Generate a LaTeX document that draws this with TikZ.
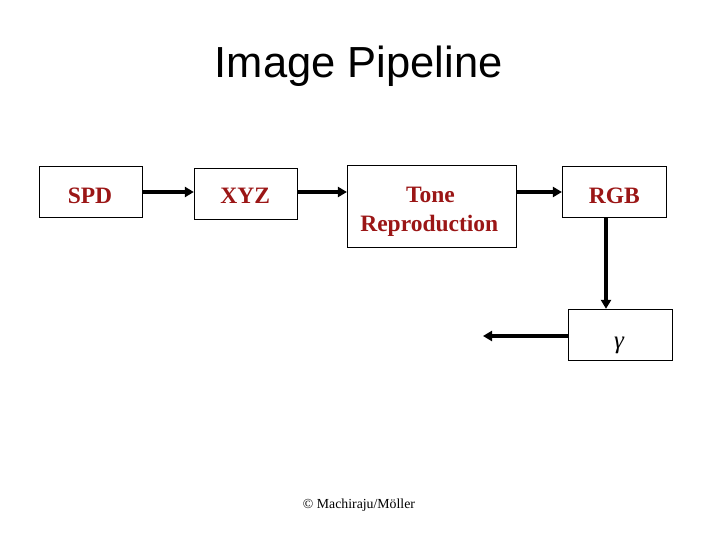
\documentclass[tikz,border=0pt]{standalone}
\usepackage{fontspec}
\setmainfont{Liberation Serif}
\setsansfont{Liberation Sans}
\usetikzlibrary{arrows.meta,calc}
\definecolor{boxred}{RGB}{155,22,22}
\tikzset{
  stage/.style={draw=black, line width=0.9pt, inner sep=0pt, fill=white},
  stagetext/.style={text=boxred, font=\fontsize{23.5}{28.7}\selectfont\bfseries, anchor=base, inner sep=0pt},
  flow/.style={line width=3.3pt, -{Triangle[length=9pt,width=10pt]}}
}
\begin{document}
\begin{tikzpicture}[x=1pt,y=-1pt]
\useasboundingbox (0,0) rectangle (720,540);
\node[font=\sffamily\fontsize{43.5}{50}\selectfont, anchor=base, inner sep=0pt] (title) at (358.7,78) {Image Pipeline};
% boxes
\node[stage, minimum width=103pt, minimum height=50.6pt] (spd) at (90.8,192) {};
\node[stage, minimum width=103pt, minimum height=51pt] (xyz) at (245.8,193.8) {};
\node[stage, minimum width=168.7pt, minimum height=82pt] (tone) at (431.7,206.3) {};
\node[stage, minimum width=103.7pt, minimum height=50.6pt] (rgb) at (614.2,192) {};
\node[stage, minimum width=104pt, minimum height=51pt] (gam) at (620.3,334.8) {};
% texts
\node[stagetext] (spdt) at (90,203.3) {SPD};
\node[stagetext] (xyzt) at (245.2,203.3) {XYZ};
\node[stagetext] (tonet) at (430.5,202.3) {Tone};
\node[stagetext] (reprt) at (429.3,231) {Reproduction};
\node[stagetext] (rgbt) at (614.3,203.3) {RGB};
\node[anchor=base, inner sep=0pt, font=\fontsize{25}{28}\selectfont\itshape] (gamt) at (619,348) {γ};
% connectors
\coordinate (out) at (483,336);
\coordinate (rgbdown) at (606,217.3);
\draw[flow] (spd.east) -- (spd.east -| xyz.west);
\draw[flow] (spd.east -| xyz.east) -- (spd.east -| tone.west);
\draw[flow] (spd.east -| tone.east) -- (rgb.west);
\draw[flow] (rgbdown) -- (rgbdown |- gam.north);
\draw[flow] (out -| gam.west) -- (out);
% footer
\node[font=\fontsize{13.8}{16}\selectfont, anchor=base, inner sep=0pt] (copy) at (359,508) {© Machiraju/Möller};
\end{tikzpicture}
\end{document}
